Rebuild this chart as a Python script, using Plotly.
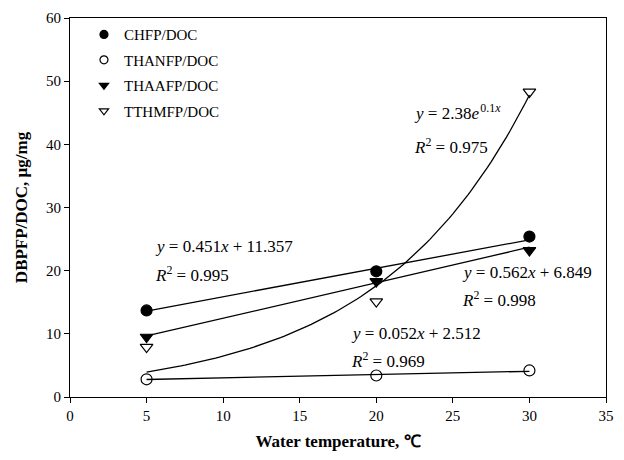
import numpy as np
import plotly.graph_objects as go

temps = [5, 20, 30]
chfp = [13.7, 19.9, 25.4]
thanfp = [2.8, 3.4, 4.2]
thaafp = [9.5, 18.3, 23.2]
tthmfp = [7.9, 15.1, 48.3]

# trend line coefficients shown on the chart
chfp_fit = (0.451, 11.357)
thanfp_fit = (0.052, 2.512)
thaafp_fit = (0.562, 6.849)
tthmfp_fit = (2.38, 0.1)

FONT = "Liberation Serif, Times New Roman, serif"
W, H = 624, 460
L, R, T, B = 70, 17, 10, 63
PW, PH = W - L - R, H - T - B


def px(xp):
    return (xp - L) / PW


def py(yp):
    return (H - B - yp) / PH


fig = go.Figure()

xl = np.array([5, 30])
xe = np.linspace(5, 30, 101)
for a, b in [chfp_fit, thanfp_fit, thaafp_fit]:
    fig.add_trace(go.Scatter(x=xl, y=a * xl + b, mode="lines",
                             line=dict(color="black", width=1.3), showlegend=False, hoverinfo="skip"))
fig.add_trace(go.Scatter(x=xe, y=tthmfp_fit[0] * np.exp(tthmfp_fit[1] * xe), mode="lines",
                         line=dict(color="black", width=1.3), showlegend=False, hoverinfo="skip"))

series = [
    ("CHFP/DOC", chfp, "circle"),
    ("THANFP/DOC", thanfp, "circle-open"),
    ("THAAFP/DOC", thaafp, "triangle-down"),
    ("TTHMFP/DOC", tthmfp, "triangle-down-open"),
]
for name, ys, sym in series:
    fig.add_trace(go.Scatter(x=temps, y=ys, mode="markers", name=name, showlegend=False,
                             marker=dict(symbol=sym, size=11, color="black",
                                         line=dict(color="black", width=1.2))))

legend_rows = [27, 53, 79, 105]
legend_names = ["legend", "legend2", "legend3", "legend4"]
layout_legends = {}
for (name, ys, sym), ln, ry in zip(series, legend_names, legend_rows):
    fig.add_trace(go.Scatter(x=[None], y=[None], mode="markers", name=name, legend=ln,
                             marker=dict(symbol=sym, size=8, color="black",
                                         line=dict(color="black", width=1.2))))
    layout_legends[ln] = dict(x=px(84), y=py(ry), xanchor="left", yanchor="middle",
                              xref="paper", yref="paper",
                              bgcolor="rgba(0,0,0,0)", font=dict(family=FONT, size=15, color="black"),
                              itemsizing="trace", itemwidth=30)

ann = [
    ("<i>y</i> = 0.451<i>x</i> + 11.357", 153, 243),
    ("<i>R</i><sup>2</sup> = 0.995", 153, 271),
    ("<i>y</i> = 2.38<i>e</i>&#8202;<sup>0.1<i>x</i></sup>", 413, 106),
    ("<i>R</i><sup>2</sup> = 0.975", 413, 141),
    ("<i>y</i> = 0.562<i>x</i> + 6.849", 461, 270),
    ("<i>R</i><sup>2</sup> = 0.998", 461, 297),
    ("<i>y</i> = 0.052<i>x</i> + 2.512", 350, 332),
    ("<i>R</i><sup>2</sup> = 0.969", 350, 359),
]
for t, xp, yp in ann:
    fig.add_annotation(text=t, xref="paper", yref="paper", x=px(xp), y=py(yp),
                       xanchor="left", yanchor="middle", showarrow=False,
                       font=dict(family=FONT, size=17, color="black"))

fig.update_layout(
    width=W, height=H,
    margin=dict(l=L, r=R, t=T, b=B),
    paper_bgcolor="white", plot_bgcolor="white",
    font=dict(family=FONT, color="black", size=15),
    showlegend=True,
    **layout_legends,
)
fig.update_xaxes(range=[0, 35], tickvals=list(range(0, 36, 5)), ticks="outside",
                 ticklen=5, tickcolor="black", showline=True, linecolor="black",
                 linewidth=1, mirror=True, showgrid=False, zeroline=False,
                 tickfont=dict(family=FONT, size=15),
                 title=dict(text="<b>Water temperature, ℃</b>", font=dict(family=FONT, size=17), standoff=12))
fig.update_yaxes(range=[0, 60], tickvals=list(range(0, 61, 10)), ticks="outside",
                 ticklen=5, tickcolor="black", showline=True, linecolor="black",
                 linewidth=1, mirror=True, showgrid=False, zeroline=False,
                 tickfont=dict(family=FONT, size=15),
                 title=dict(text="<b>DBPFP/DOC, μg/mg</b>", font=dict(family=FONT, size=17), standoff=14))

fig.write_html("out.html")
